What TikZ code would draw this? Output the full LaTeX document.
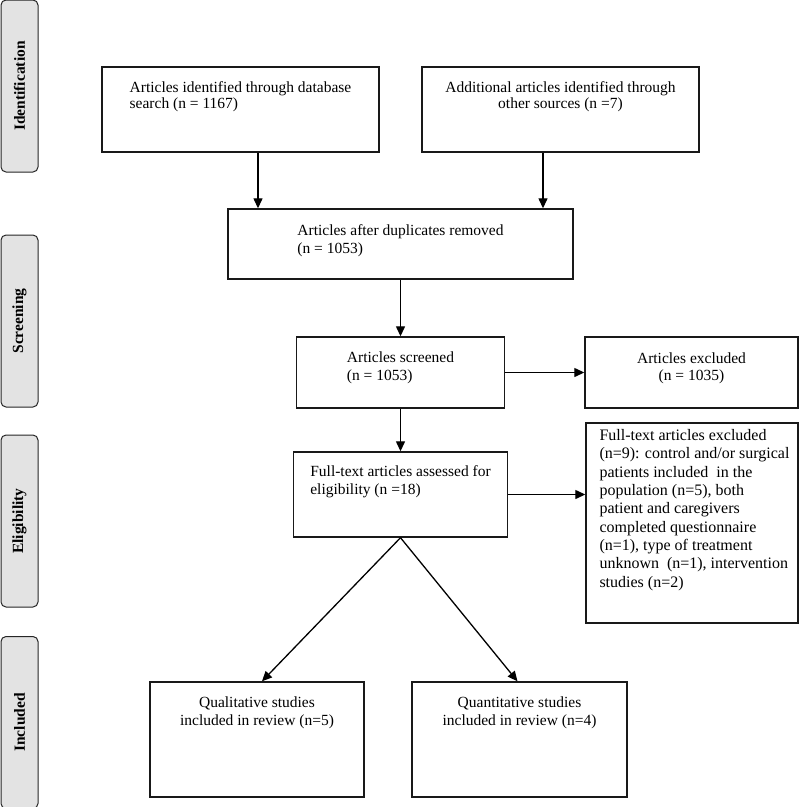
\documentclass[tikz,border=0pt]{standalone}
\usepackage{fontspec}
\setmainfont{Liberation Serif}
\usetikzlibrary{arrows.meta,positioning}

\begin{document}
\begin{tikzpicture}[x=1pt, y=-1pt, font=\fontsize{15.5}{17.5}\selectfont,
  box/.style={draw=black!90, line width=1.4pt, inner sep=0pt},
  txt/.style={align=left, inner sep=0pt},
  ctxt/.style={align=center, inner sep=0pt},
  stage/.style={draw=black!85, line width=1pt, fill=black!11, rounded corners=5pt, rotate=90,
    minimum width=172pt, minimum height=37pt, inner sep=0pt, font=\bfseries\fontsize{15.5}{18}\selectfont},
  arr/.style={-{Triangle[length=10pt,width=9pt]}, line width=1.3pt}]
  \useasboundingbox (0,0) rectangle (800,807);

  % stages on the left
  \node[stage] (s1) at (19.5,86) {Identification};
  \node[stage] (s2) at (19.5,321) {Screening};
  \node[stage] (s3) at (19.5,521) {Eligibility};
  \node[stage] (s4) at (19.5,722.5) {Included};

  % boxes
  \node[box, minimum width=277pt, minimum height=85pt] (db) at (240.5,109.5) {};
  \node[box, minimum width=277pt, minimum height=85pt] (oth) at (560.5,109.5) {};
  \node[box, minimum width=345pt, minimum height=70pt] (dup) at (400.5,244) {};
  \node[box, minimum width=208pt, minimum height=71pt] (scr) at (400.5,372.5) {};
  \node[box, minimum width=213pt, minimum height=71pt] (exc) at (691.5,372.5) {};
  \node[box, minimum width=214pt, minimum height=85pt] (ft) at (400.5,494.5) {};
  \node[box, minimum width=212pt, minimum height=200pt] (ftx) at (692,523) {};
  \node[box, minimum width=214pt, minimum height=115pt] (qual) at (257,739.5) {};
  \node[box, minimum width=215pt, minimum height=115pt] (quan) at (519.5,739.5) {};

  % texts
  \node[txt, font=\fontsize{15.5}{15.5}\selectfont, below=15.5pt of db.north] (db-t)
    {Articles identified through database\\search (n = 1167)};
  \node[ctxt, font=\fontsize{15.5}{16}\selectfont, below=15.5pt of oth.north] (oth-t)
    {Additional articles identified through\\other sources (n =7)};
  \node[txt, below=16.5pt of dup.north] (dup-t) {Articles after duplicates removed\\(n = 1053)};
  \node[txt, below=15.5pt of scr.north] (scr-t) {Articles screened\\(n = 1053)};
  \node[ctxt, below=16pt of exc.north] (exc-t) {Articles excluded\\(n = 1035)};
  \node[txt, below=14.5pt of ft.north] (ft-t) {Full-text articles assessed for\\eligibility (n =18)};
  \node[txt, font=\fontsize{16}{18.3}\selectfont, below right=7pt and 14pt of ftx.north west] (ftx-t)
    {Full-text articles excluded\\(n=9): control and/or surgical\\patients included\ \ in the\\
     population (n=5), both\\patient and caregivers\\completed questionnaire\\
     (n=1), type of treatment\\unknown\ \ (n=1), intervention\\studies (n=2)};
  \node[ctxt, below=15.5pt of qual.north] (qual-t) {Qualitative studies\\included in review (n=5)};
  \node[ctxt, below=15.5pt of quan.north] (quan-t) {Quantitative studies\\included in review (n=4)};

  % arrows
  \draw[arr] ([xshift=17.5pt]db.south) -- ([xshift=17.5pt]db.south |- dup.north);
  \draw[arr] ([xshift=-17.5pt]oth.south) -- ([xshift=-17.5pt]oth.south |- dup.north);
  \draw[arr] (dup.south) -- (scr.north);
  \draw[arr] (scr.east) -- (exc.west);
  \draw[arr] (scr.south) -- (ft.north);
  \draw[arr] (ft.east) -- (ft.east -| ftx.west);
  \draw[arr] (ft.south) -- ([xshift=5pt]qual.north);
  \draw[arr] (ft.south) -- ([xshift=-2pt]quan.north);
\end{tikzpicture}
\end{document}
